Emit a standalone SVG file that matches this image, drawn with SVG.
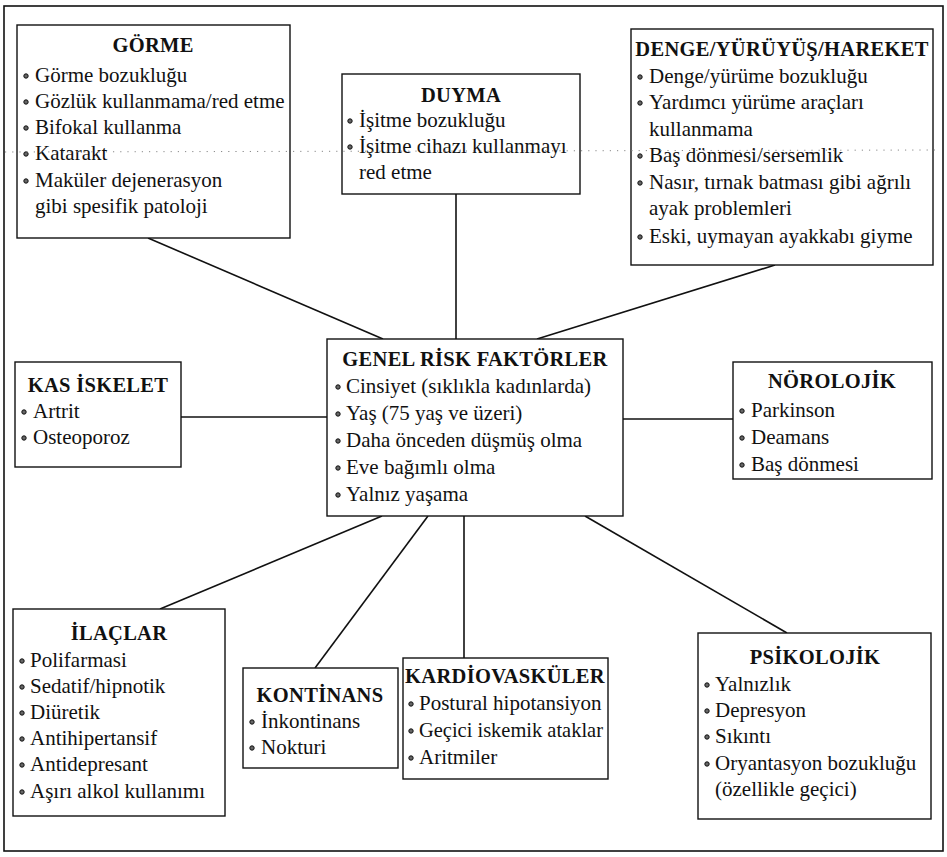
<svg xmlns="http://www.w3.org/2000/svg" width="947" height="857" viewBox="0 0 947 857">
<style>
.box{fill:#fff;stroke:#111;stroke-width:1.4}
.frame{fill:none;stroke:#111;stroke-width:1.6}
.ln{stroke:#111;stroke-width:1.6;fill:none}
.fold{stroke:#888;stroke-width:1;stroke-dasharray:1.2 6;fill:none}
.t{font-family:'Liberation Serif',serif;font-size:20.5px;font-weight:bold;text-anchor:middle;letter-spacing:0.3px;fill:#111}
.i{font-family:'Liberation Serif',serif;font-size:21px;fill:#111}
.b{fill:#666;stroke:#111;stroke-width:1}
</style>
<defs>
<circle id="bul" r="2.2" class="b"/>
</defs>
<rect class="frame" x="4" y="6" width="939" height="845"/>
<g id="connectors">
<line class="ln" x1="148" y1="238" x2="383" y2="339"/>
<line class="ln" x1="456" y1="194" x2="456" y2="339"/>
<line class="ln" x1="775" y1="265" x2="537" y2="339"/>
<line class="ln" x1="181" y1="417" x2="327" y2="417"/>
<line class="ln" x1="623" y1="419" x2="733" y2="419"/>
<line class="ln" x1="382" y1="516" x2="160" y2="609"/>
<line class="ln" x1="428" y1="516" x2="315" y2="668"/>
<line class="ln" x1="464" y1="516" x2="464" y2="658"/>
<line class="ln" x1="585" y1="516" x2="787" y2="633"/>
</g>
<g id="gorme">
<rect class="box" x="17" y="25" width="273" height="213"/>
<text class="t" x="153" y="52">GÖRME</text>
<use href="#bul" x="26" y="76"/><text class="i" x="35" y="82">Görme bozukluğu</text>
<use href="#bul" x="26" y="102"/><text class="i" x="35" y="108">Gözlük kullanmama/red etme</text>
<use href="#bul" x="26" y="128"/><text class="i" x="35" y="134">Bifokal kullanma</text>
<use href="#bul" x="26" y="154"/><text class="i" x="35" y="160">Katarakt</text>
<use href="#bul" x="26" y="181"/><text class="i" x="35" y="187">Maküler dejenerasyon</text>
<text class="i" x="35" y="213">gibi  spesifik patoloji</text>
</g>
<g id="duyma">
<rect class="box" x="342" y="74" width="238" height="120"/>
<text class="t" x="461" y="102">DUYMA</text>
<use href="#bul" x="350" y="121"/><text class="i" x="359" y="127">İşitme bozukluğu</text>
<use href="#bul" x="350" y="147"/><text class="i" x="359" y="153">İşitme cihazı kullanmayı</text>
<text class="i" x="359" y="179">red etme</text>
</g>
<g id="denge">
<rect class="box" x="631" y="29" width="302" height="236"/>
<text class="t" x="782" y="56">DENGE/YÜRÜYÜŞ/HAREKET</text>
<use href="#bul" x="640" y="77"/><text class="i" x="649" y="83">Denge/yürüme bozukluğu</text>
<use href="#bul" x="640" y="103"/><text class="i" x="649" y="109">Yardımcı yürüme araçları</text>
<text class="i" x="649" y="136">kullanmama</text>
<use href="#bul" x="640" y="156"/><text class="i" x="649" y="162">Baş dönmesi/sersemlik</text>
<use href="#bul" x="640" y="183"/><text class="i" x="649" y="189">Nasır, tırnak batması gibi ağrılı</text>
<text class="i" x="649" y="215">ayak problemleri</text>
<use href="#bul" x="640" y="237"/><text class="i" x="649" y="243">Eski, uymayan ayakkabı giyme</text>
</g>
<g id="kas">
<rect class="box" x="15" y="362" width="166" height="105"/>
<text class="t" x="98" y="392">KAS İSKELET</text>
<use href="#bul" x="24" y="412"/><text class="i" x="33" y="418">Artrit</text>
<use href="#bul" x="24" y="438"/><text class="i" x="33" y="444">Osteoporoz</text>
</g>
<g id="genel">
<rect class="box" x="327" y="339" width="296" height="177"/>
<text class="t" x="475" y="366">GENEL RİSK FAKTÖRLER</text>
<use href="#bul" x="338" y="387"/><text class="i" x="346" y="393">Cinsiyet (sıklıkla kadınlarda)</text>
<use href="#bul" x="338" y="414"/><text class="i" x="346" y="420">Yaş (75 yaş ve üzeri)</text>
<use href="#bul" x="338" y="441"/><text class="i" x="346" y="447">Daha önceden düşmüş olma</text>
<use href="#bul" x="338" y="468"/><text class="i" x="346" y="474">Eve bağımlı olma</text>
<use href="#bul" x="338" y="495"/><text class="i" x="346" y="501">Yalnız yaşama</text>
</g>
<g id="norolojik">
<rect class="box" x="733" y="362" width="199" height="117"/>
<text class="t" x="832" y="388">NÖROLOJİK</text>
<use href="#bul" x="742" y="411"/><text class="i" x="751" y="417">Parkinson</text>
<use href="#bul" x="742" y="438"/><text class="i" x="751" y="444">Deamans</text>
<use href="#bul" x="742" y="465"/><text class="i" x="751" y="471">Baş dönmesi</text>
</g>
<g id="ilaclar">
<rect class="box" x="13" y="609" width="212" height="207"/>
<text class="t" x="119" y="640">İLAÇLAR</text>
<use href="#bul" x="22" y="661"/><text class="i" x="30" y="667">Polifarmasi</text>
<use href="#bul" x="22" y="687"/><text class="i" x="30" y="693">Sedatif/hipnotik</text>
<use href="#bul" x="22" y="713"/><text class="i" x="30" y="719">Diüretik</text>
<use href="#bul" x="22" y="739"/><text class="i" x="30" y="745">Antihipertansif</text>
<use href="#bul" x="22" y="765"/><text class="i" x="30" y="771">Antidepresant</text>
<use href="#bul" x="22" y="792"/><text class="i" x="30" y="798">Aşırı alkol kullanımı</text>
</g>
<g id="kontinans">
<rect class="box" x="243" y="668" width="155" height="100"/>
<text class="t" x="320" y="702">KONTİNANS</text>
<use href="#bul" x="252" y="722"/><text class="i" x="261" y="728">İnkontinans</text>
<use href="#bul" x="252" y="748"/><text class="i" x="261" y="754">Nokturi</text>
</g>
<g id="kardiovaskuler">
<rect class="box" x="403" y="658" width="205" height="121"/>
<text class="t" x="505" y="683">KARDİOVASKÜLER</text>
<use href="#bul" x="411" y="704"/><text class="i" x="419" y="710">Postural hipotansiyon</text>
<use href="#bul" x="411" y="731"/><text class="i" x="419" y="737" textLength="184" lengthAdjust="spacingAndGlyphs">Geçici iskemik ataklar</text>
<use href="#bul" x="411" y="758"/><text class="i" x="419" y="764">Aritmiler</text>
</g>
<g id="psikolojik">
<rect class="box" x="698" y="633" width="233" height="186"/>
<text class="t" x="815" y="664">PSİKOLOJİK</text>
<use href="#bul" x="707" y="685"/><text class="i" x="715" y="691">Yalnızlık</text>
<use href="#bul" x="707" y="711"/><text class="i" x="715" y="717">Depresyon</text>
<use href="#bul" x="707" y="737"/><text class="i" x="715" y="743">Sıkıntı</text>
<use href="#bul" x="707" y="764"/><text class="i" x="715" y="770">Oryantasyon bozukluğu</text>
<text class="i" x="715" y="796">(özellikle geçici)</text>
</g>
<line class="fold" x1="5" y1="152" x2="936" y2="150"/>
</svg>
